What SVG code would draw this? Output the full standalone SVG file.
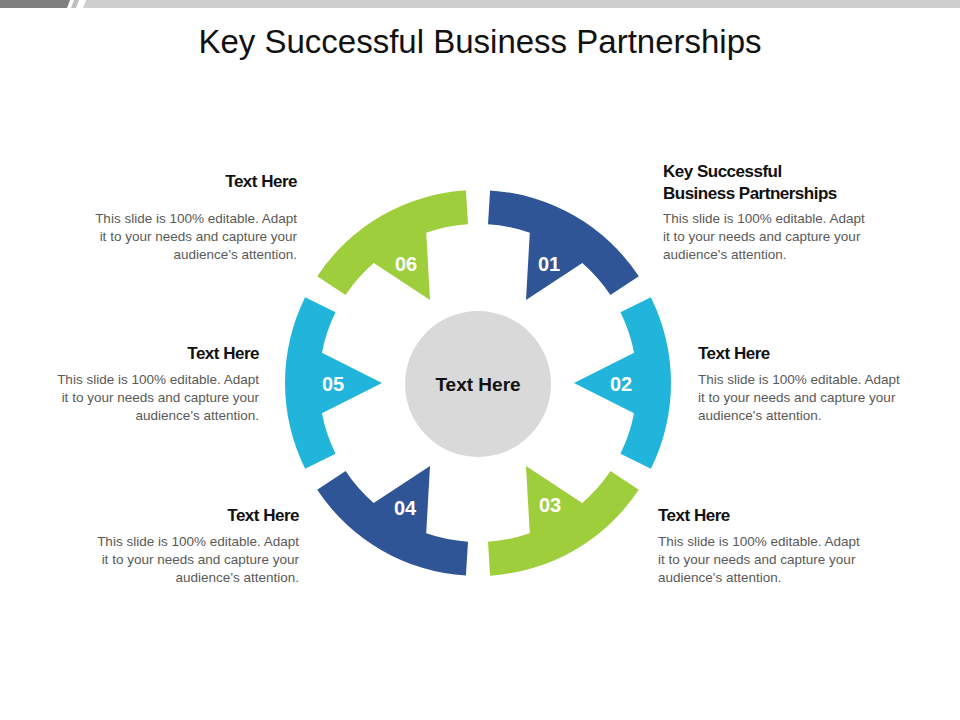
<svg xmlns="http://www.w3.org/2000/svg" width="960" height="720" viewBox="0 0 960 720">
<style>
text{font-family:"Liberation Sans",Arial,sans-serif}
.h{font-size:17px;font-weight:bold;fill:#111;letter-spacing:-0.5px}
.b{font-size:13.5px;fill:#595959}
.n{font-size:20px;font-weight:bold;fill:#fff;text-anchor:middle}
.r{text-anchor:end}
</style>
<defs>
<path id="seg" d="M490.1,190.4 A193,193 0 0 1 638.8,276.2 L610.4,295 A159,159 0 0 0 582.3,263 L526,299.9 L529.8,232.7 A159,159 0 0 0 488,224.3 Z"/>
</defs>
<rect width="960" height="720" fill="#fff"/>
<polygon points="0,0 70,0 67,8 0,8" fill="#7f7f7f"/>
<polygon points="74,0 79,0 76,8 71,8" fill="#bfbfbf"/>
<polygon points="86,0 960,0 960,8 83,8" fill="#d0cfd0"/>
<text x="480" y="53" font-size="33" text-anchor="middle" fill="#111">Key Successful Business Partnerships</text>
<g id="seg1"><use href="#seg" fill="#2F5597"/><text class="n" x="549" y="271">01</text></g>
<g id="seg2"><use href="#seg" fill="#22B5DC" transform="rotate(60 478 383)"/><text class="n" x="621" y="391">02</text></g>
<g id="seg3"><use href="#seg" fill="#9ECE3C" transform="rotate(120 478 383)"/><text class="n" x="550" y="512">03</text></g>
<g id="seg4"><use href="#seg" fill="#2F5597" transform="rotate(180 478 383)"/><text class="n" x="405" y="515">04</text></g>
<g id="seg5"><use href="#seg" fill="#22B5DC" transform="rotate(240 478 383)"/><text class="n" x="333" y="391">05</text></g>
<g id="seg6"><use href="#seg" fill="#9ECE3C" transform="rotate(300 478 383)"/><text class="n" x="406" y="271">06</text></g>
<g id="center"><circle cx="478" cy="384" r="73" fill="#D9D9D9"/><text x="478" y="391" font-size="19" font-weight="bold" fill="#111" text-anchor="middle">Text Here</text></g>
<g id="t1"><text class="h" x="663" y="177">Key Successful</text><text class="h" x="663" y="199">Business Partnerships</text>
<text class="b" x="663" y="223">This slide is 100% editable. Adapt</text><text class="b" x="663" y="241">it to your needs and capture your</text><text class="b" x="663" y="259">audience's attention.</text></g>
<g id="t2"><text class="h" x="698" y="359">Text Here</text>
<text class="b" x="698" y="384">This slide is 100% editable. Adapt</text><text class="b" x="698" y="402">it to your needs and capture your</text><text class="b" x="698" y="420">audience's attention.</text></g>
<g id="t3"><text class="h" x="658" y="521">Text Here</text>
<text class="b" x="658" y="546">This slide is 100% editable. Adapt</text><text class="b" x="658" y="564">it to your needs and capture your</text><text class="b" x="658" y="582">audience's attention.</text></g>
<g id="t4" class="r"><text class="h r" x="299" y="521">Text Here</text>
<text class="b r" x="299" y="546">This slide is 100% editable. Adapt</text><text class="b r" x="299" y="564">it to your needs and capture your</text><text class="b r" x="299" y="582">audience's attention.</text></g>
<g id="t5"><text class="h r" x="259" y="359">Text Here</text>
<text class="b r" x="259" y="384">This slide is 100% editable. Adapt</text><text class="b r" x="259" y="402">it to your needs and capture your</text><text class="b r" x="259" y="420">audience's attention.</text></g>
<g id="t6"><text class="h r" x="297" y="187">Text Here</text>
<text class="b r" x="297" y="223">This slide is 100% editable. Adapt</text><text class="b r" x="297" y="241">it to your needs and capture your</text><text class="b r" x="297" y="259">audience's attention.</text></g>
</svg>
